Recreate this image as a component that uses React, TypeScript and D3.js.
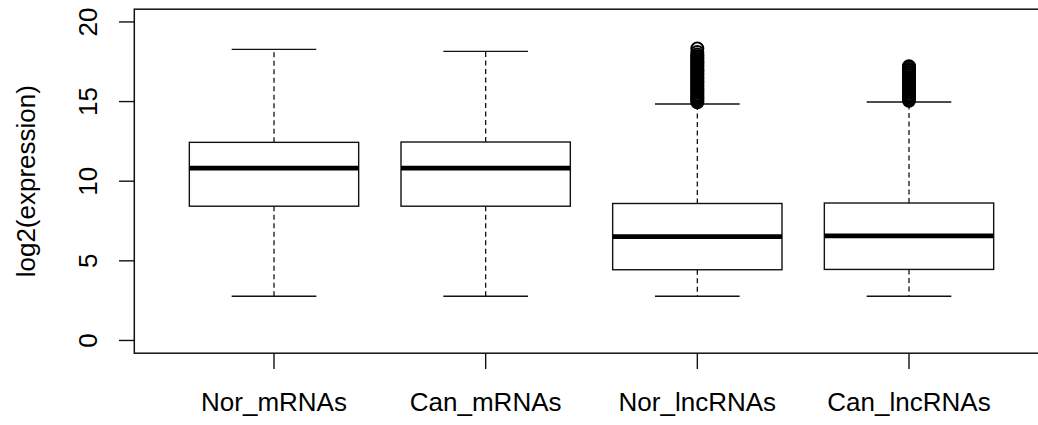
import { useEffect, useRef } from 'react'
import * as d3 from 'd3'

const categories = ['Nor_mRNAs', 'Can_mRNAs', 'Nor_lncRNAs', 'Can_lncRNAs']
const whiskerLow = [2.78, 2.78, 2.78, 2.78]
const q1 = [8.43, 8.43, 4.44, 4.46]
const median = [10.82, 10.82, 6.52, 6.57]
const q3 = [12.44, 12.46, 8.6, 8.63]
const whiskerHigh = [18.28, 18.15, 14.85, 14.97]

const norLncOutliers = [
  14.95, 15.05, 15.15, 15.25, 15.35, 15.45, 15.55, 15.65, 15.75, 15.85,
  15.95, 16.05, 16.15, 16.25, 16.35, 16.45, 16.55, 16.65, 16.75, 16.85,
  16.95, 17.05, 17.15, 17.25, 17.35, 17.45, 17.55, 17.65, 17.75, 17.85,
  17.95, 18.12, 18.33,
]
const canLncOutliers = [
  15.05, 15.15, 15.25, 15.35, 15.45, 15.55, 15.65, 15.75, 15.85, 15.95,
  16.05, 16.15, 16.25, 16.35, 16.45, 16.55, 16.65, 16.75, 16.85, 16.95,
  17.05, 17.15, 17.22,
]
const outliers = [[], [], norLncOutliers, canLncOutliers]

const yTicks = [0, 5, 10, 15, 20]
const yTitle = 'log2(expression)'

export default function App() {
  const svgRef = useRef<SVGSVGElement>(null)

  useEffect(() => {
    document.body.style.margin = '0'
    if (!svgRef.current) return

    const svg = d3.select(svgRef.current)
    svg.selectAll('*').remove()

    const font = '"Liberation Sans", Arial, sans-serif'
    const fontSize = '26px'
    const ink = '#111'

    // R-style ranges with 4% expansion
    const x = d3.scaleLinear().domain([0.34, 4.66]).range([134.3, 1048.7])
    const y = d3.scaleLinear().domain([-0.8, 20.8]).range([353.2, 9.2])

    const boxHalf = x(1.4) - x(1) // box width 0.8
    const capHalf = boxHalf / 2

    const g = svg.append('g')

    categories.forEach((c, i) => {
      const cx = x(i + 1)

      // whiskers
      ;[[q3[i], whiskerHigh[i]], [q1[i], whiskerLow[i]]].forEach(([a, b]) => {
        g.append('line')
          .attr('x1', cx).attr('x2', cx)
          .attr('y1', y(a)).attr('y2', y(b))
          .attr('stroke', ink).attr('stroke-width', 1.3)
          .attr('stroke-dasharray', '5,3.5')
      })

      // caps
      ;[whiskerHigh[i], whiskerLow[i]].forEach(v => {
        g.append('line')
          .attr('x1', cx - capHalf).attr('x2', cx + capHalf)
          .attr('y1', y(v)).attr('y2', y(v))
          .attr('stroke', ink).attr('stroke-width', 1.4)
      })

      // box
      g.append('rect')
        .attr('x', cx - boxHalf)
        .attr('y', y(q3[i]))
        .attr('width', boxHalf * 2)
        .attr('height', y(q1[i]) - y(q3[i]))
        .attr('fill', '#fff')
        .attr('stroke', ink)
        .attr('stroke-width', 1.4)

      // median
      g.append('line')
        .attr('x1', cx - boxHalf).attr('x2', cx + boxHalf)
        .attr('y1', y(median[i])).attr('y2', y(median[i]))
        .attr('stroke', '#000').attr('stroke-width', 4.8)

      // outliers
      outliers[i].forEach(v => {
        g.append('circle')
          .attr('cx', cx)
          .attr('cy', y(v))
          .attr('r', 6)
          .attr('fill', 'none')
          .attr('stroke', '#000')
          .attr('stroke-width', 2)
      })
    })

    // plot frame
    svg.append('rect')
      .attr('x', x(0.34)).attr('y', y(20.8))
      .attr('width', x(4.66) - x(0.34))
      .attr('height', y(-0.8) - y(20.8))
      .attr('fill', 'none')
      .attr('stroke', ink)
      .attr('stroke-width', 1.5)

    // y axis
    const yAxis = svg.append('g')
    yTicks.forEach(t => {
      yAxis.append('line')
        .attr('x1', 119).attr('x2', x(0.34))
        .attr('y1', y(t)).attr('y2', y(t))
        .attr('stroke', ink).attr('stroke-width', 1.4)
      yAxis.append('text')
        .attr('transform', `translate(97,${y(t)}) rotate(-90)`)
        .attr('text-anchor', 'middle')
        .style('font-family', font)
        .style('font-size', fontSize)
        .style('fill', '#000')
        .text(t)
    })

    // x axis
    const xAxis = svg.append('g')
    categories.forEach((c, i) => {
      xAxis.append('line')
        .attr('x1', x(i + 1)).attr('x2', x(i + 1))
        .attr('y1', y(-0.8)).attr('y2', 369)
        .attr('stroke', ink).attr('stroke-width', 1.4)
      xAxis.append('text')
        .attr('x', x(i + 1))
        .attr('y', 411)
        .attr('text-anchor', 'middle')
        .style('font-family', font)
        .style('font-size', fontSize)
        .style('fill', '#000')
        .text(c)
    })

    // y title
    svg.append('text')
      .attr('transform', `translate(35,${(y(20.8) + y(-0.8)) / 2}) rotate(-90)`)
      .attr('text-anchor', 'middle')
      .style('font-family', font)
      .style('font-size', fontSize)
      .style('fill', '#000')
      .text(yTitle)
  }, [])

  return (
    <svg
      ref={svgRef}
      width={1038}
      height={425}
      style={{ display: 'block', background: '#fff' }}
    />
  )
}
